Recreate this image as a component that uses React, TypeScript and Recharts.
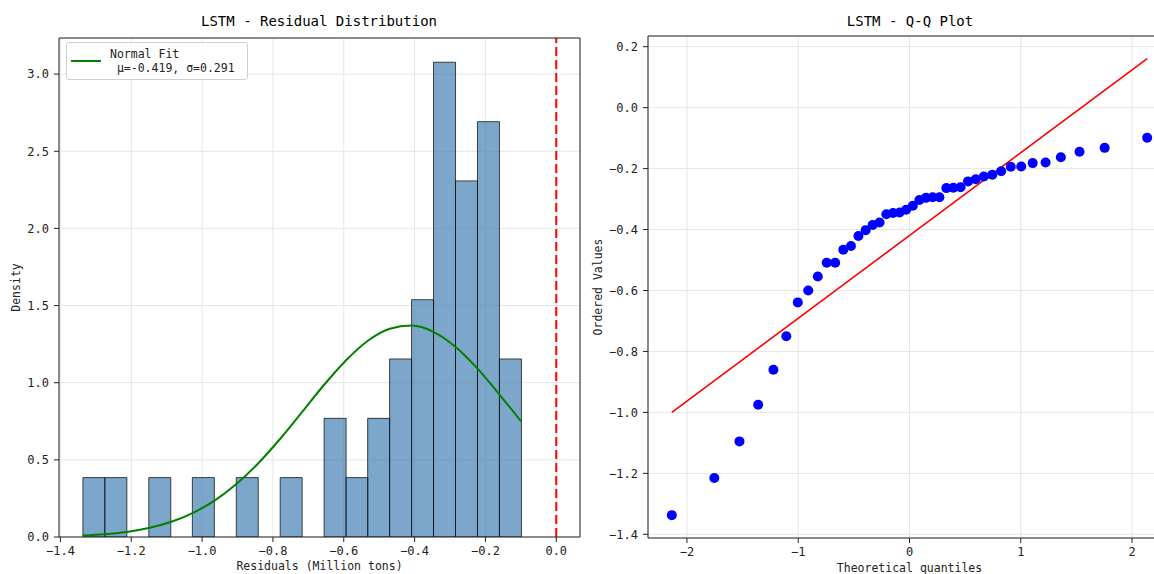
import React from 'react';
import {
  ComposedChart, Bar, Line, Scatter, XAxis, YAxis, CartesianGrid,
  ReferenceLine, Legend, Label,
} from 'recharts';

const FONT = '"DejaVu Sans Mono", monospace';

// histogram of residuals: 20 bins, density per bin
const binCenters = [-1.306, -1.244, -1.182, -1.120, -1.059, -0.997, -0.935, -0.873, -0.811, -0.749,
  -0.687, -0.625, -0.563, -0.502, -0.440, -0.378, -0.316, -0.254, -0.192, -0.130];
const binDensity = [0.385, 0.385, 0, 0.385, 0, 0.385, 0, 0.385, 0, 0.385,
  0, 0.769, 0.385, 0.769, 1.154, 1.538, 3.077, 2.308, 2.692, 1.154];

// normal fit curve (mu=-0.419, sigma=0.291), read along the bin edges
const fitX = [-1.337, -1.275, -1.213, -1.151, -1.089, -1.027, -0.966, -0.904, -0.842, -0.780, -0.718,
  -0.656, -0.594, -0.532, -0.470, -0.409, -0.347, -0.285, -0.223, -0.161, -0.099];
const fitDensity = [0.010, 0.018, 0.033, 0.058, 0.097, 0.155, 0.234, 0.342, 0.476, 0.635, 0.809,
  0.985, 1.144, 1.272, 1.350, 1.370, 1.330, 1.233, 1.093, 0.925, 0.749];

const histXTicks = [-1.4, -1.2, -1.0, -0.8, -0.6, -0.4, -0.2, 0.0];
const histYTicks = [0, 0.5, 1.0, 1.5, 2.0, 2.5, 3.0];

// Q-Q plot
const qqTheoretical = [-2.136, -1.754, -1.528, -1.360, -1.223, -1.107, -1.004, -0.910, -0.824, -0.744,
  -0.668, -0.595, -0.526, -0.459, -0.394, -0.331, -0.269, -0.208, -0.148, -0.089, -0.030,
  0.030, 0.089, 0.148, 0.208, 0.269, 0.331, 0.394, 0.459, 0.526, 0.595, 0.668, 0.744, 0.824,
  0.910, 1.004, 1.107, 1.223, 1.360, 1.528, 1.754, 2.136];
const qqOrdered = [-1.337, -1.215, -1.095, -0.975, -0.860, -0.750, -0.639, -0.600, -0.554, -0.509,
  -0.509, -0.466, -0.454, -0.421, -0.402, -0.385, -0.377, -0.350, -0.346, -0.344, -0.335,
  -0.322, -0.303, -0.296, -0.294, -0.294, -0.264, -0.263, -0.261, -0.242, -0.235, -0.226, -0.220,
  -0.209, -0.194, -0.193, -0.182, -0.180, -0.163, -0.145, -0.132, -0.099];
const qqLineX = [-2.136, 2.136];
const qqLineY = [-1.0, 0.161];

const qqXTicks = [-2, -1, 0, 1, 2];
const qqYTicks = [-1.4, -1.2, -1.0, -0.8, -0.6, -0.4, -0.2, 0.0, 0.2];

const histData = binCenters.map((c, i) => ({ center: c, density: binDensity[i] }));
const fitData = fitX.map((x, i) => ({ x, pdf: fitDensity[i] }));
const qqData = qqTheoretical.map((q, i) => ({ q, v: qqOrdered[i] }));
const qqLineData = qqLineX.map((q, i) => ({ q, v: qqLineY[i] }));

const histXDomain = [-1.404, 0.067];
const histYDomain = [0, 3.234];
const qqXDomain = [-2.35, 2.35];
const qqYDomain = [-1.412, 0.235];

const frame = { stroke: '#222', strokeWidth: 1 };
const tickStyle = { fontFamily: FONT, fontSize: 12, fill: '#222' };
const fmt1 = (v: number) => v.toFixed(1).replace('-', '\u2212');
const fmt0 = (v: number) => String(v).replace('-', '\u2212');

const yTitle = (text: string, dx: number) => (props: any) => {
  const vb = props.viewBox;
  const x = vb.x + dx;
  const y = vb.y + vb.height / 2;
  return (
    <text x={x} y={y} transform={`rotate(-90 ${x} ${y})`} textAnchor="middle" dominantBaseline="central"
      style={{ fontFamily: FONT, fontSize: 11.5, fill: '#222' }}>{text}</text>
  );
};

const xTitle = (text: string, dy: number) => (props: any) => {
  const vb = props.viewBox;
  return (
    <text x={vb.x + vb.width / 2} y={vb.y + dy} textAnchor="middle" dominantBaseline="central"
      style={{ fontFamily: FONT, fontSize: 11.5, fill: '#222' }}>{text}</text>
  );
};

const renderLegend = (props: any) => {
  const items = (props.payload || []).filter((p: any) => p.dataKey === 'pdf');
  return (
    <div style={{
      border: '1px solid #cfcfcf', borderRadius: 3, background: 'rgba(255,255,255,0.8)',
      padding: '4px 12px 4px 4px', fontFamily: FONT, fontSize: 11.5, color: '#222',
    }}>
      {items.map((p: any) => (
        <div key={p.value} style={{ display: 'flex', alignItems: 'center' }}>
          <span style={{ width: 30, borderTop: `2px solid ${p.color}`, marginRight: 9 }} />
          <span style={{ whiteSpace: 'pre', lineHeight: '14px' }}>{p.value}</span>
        </div>
      ))}
    </div>
  );
};

const titleStyle: React.CSSProperties = {
  position: 'absolute', top: 13, fontFamily: FONT, fontSize: 14, color: '#000',
  textAlign: 'center', width: 400, whiteSpace: 'pre',
};

export default function App() {
  return (
    <div style={{ position: 'absolute', left: 0, top: 0, width: 1154, height: 574, overflow: 'hidden', background: '#fff' }}>
      <div style={{ ...titleStyle, left: 319 - 200 }}>LSTM - Residual Distribution</div>
      <div style={{ ...titleStyle, left: 910 - 200 }}>LSTM - Q-Q Plot</div>

      <div style={{ position: 'absolute', left: 0, top: 0 }}>
        <ComposedChart width={600} height={574} data={histData} barCategoryGap={0} barGap={0}
          margin={{ top: 38, right: 20, left: 0, bottom: 0 }}>
          <CartesianGrid stroke="#e6e6e6" />
          <XAxis dataKey="center" type="number" domain={histXDomain} ticks={histXTicks} allowDataOverflow
            tickFormatter={fmt1} tick={tickStyle} tickSize={5} tickMargin={4} height={37}
            axisLine={frame} tickLine={frame} interval={0}>
            <Label content={xTitle('Residuals (Million tons)', 29)} />
          </XAxis>
          <XAxis xAxisId="fit" dataKey="x" type="number" domain={histXDomain} allowDataOverflow hide />
          <YAxis type="number" domain={histYDomain} ticks={histYTicks} allowDataOverflow width={59}
            tickFormatter={fmt1} tick={tickStyle} tickSize={5} tickMargin={5}
            axisLine={frame} tickLine={frame} interval={0}>
            <Label content={yTitle('Density', 16)} />
          </YAxis>
          <Bar dataKey="density" fill="steelblue" fillOpacity={0.7} stroke="#000" strokeOpacity={0.7}
            strokeWidth={1} legendType="none" isAnimationActive={false} />
          <Line xAxisId="fit" data={fitData} dataKey="pdf" name={'Normal Fit\n \u03bc=-0.419, \u03c3=0.291'}
            type="monotone" stroke="green" strokeWidth={2} dot={false} activeDot={false}
            isAnimationActive={false} />
          <ReferenceLine x={0} stroke="red" strokeWidth={2} strokeDasharray="9 4" />
          {/* top and right spines */}
          <ReferenceLine y={histYDomain[1]} stroke="#222" strokeWidth={1} />
          <ReferenceLine x={histXDomain[1]} stroke="#222" strokeWidth={1} />
          <Legend layout="vertical" align="center" verticalAlign="middle" content={renderLegend}
            wrapperStyle={{ left: 66, top: 42, width: 'auto', height: 'auto' }} />
        </ComposedChart>
      </div>

      <div style={{ position: 'absolute', left: 580, top: 0 }}>
        <ComposedChart width={600} height={574} margin={{ top: 36, right: 9, left: 0, bottom: 0 }}>
          <CartesianGrid stroke="#e6e6e6" />
          <XAxis dataKey="q" type="number" domain={qqXDomain} ticks={qqXTicks} allowDataOverflow
            tickFormatter={fmt0} tick={tickStyle} tickSize={5} tickMargin={4} height={36}
            axisLine={frame} tickLine={frame} interval={0}>
            <Label content={xTitle('Theoretical quantiles', 30)} />
          </XAxis>
          <YAxis dataKey="v" type="number" domain={qqYDomain} ticks={qqYTicks} allowDataOverflow width={68}
            tickFormatter={fmt1} tick={tickStyle} tickSize={5} tickMargin={5}
            axisLine={frame} tickLine={frame} interval={0}>
            <Label content={yTitle('Ordered Values', 18)} />
          </YAxis>
          <Scatter data={qqData} dataKey="v" fill="blue" isAnimationActive={false}
            shape={(p: any) => <circle cx={p.cx} cy={p.cy} r={5} fill="blue" />} />
          <Line data={qqLineData} dataKey="v" type="linear" stroke="red" strokeWidth={1.6}
            dot={false} activeDot={false} isAnimationActive={false} />
          {/* top spine */}
          <ReferenceLine y={qqYDomain[1]} stroke="#222" strokeWidth={1} />
        </ComposedChart>
      </div>
    </div>
  );
}
